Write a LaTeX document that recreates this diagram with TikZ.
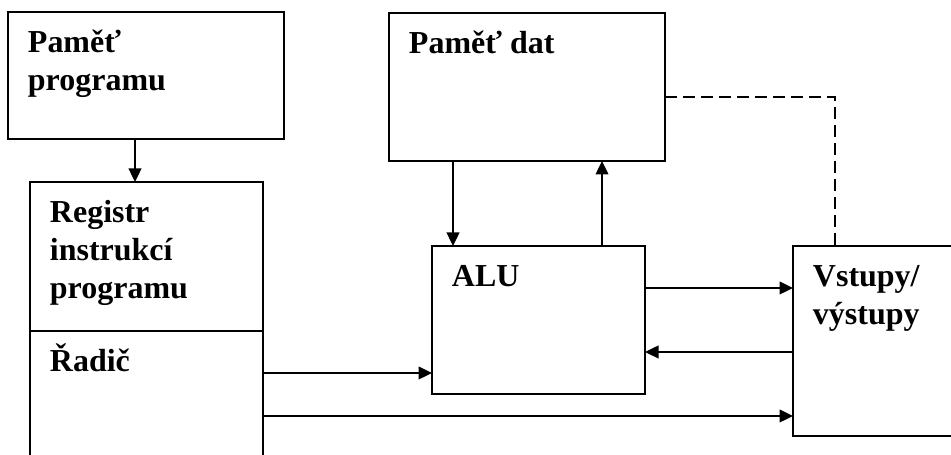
\documentclass[tikz,border=0pt]{standalone}
\usepackage{fontspec}
\setmainfont{Liberation Serif}
\usetikzlibrary{arrows.meta,positioning}

\begin{document}
\begin{tikzpicture}
	\useasboundingbox (0,0) rectangle (19.02,9.10);
	\clip (0,0) rectangle (19.02,9.10);
	\begin{scope}[line width=1.1pt,
		>={Triangle[length=0.27cm,width=0.25cm]},
		box/.style={rectangle,draw,inner sep=0pt,outer sep=0pt,anchor=north west},
		txt/.style={anchor=base west,inner sep=0pt,font=\fontsize{18.2}{21.6}\selectfont\bfseries},
		link/.style={->,line width=1.4pt},
		dashlink/.style={line width=0.9pt,dash pattern=on 0.24cm off 0.12cm}]
		\node [box, minimum width=5.52cm, minimum height=2.54cm]	(1)		at (0.16,8.86)	{};
		\node [box, minimum width=4.66cm, minimum height=2.98cm]	(2A)	at (0.60,5.46)	{};
		\node [box, minimum width=4.66cm, minimum height=3.20cm]	(2B)	at (0.60,2.48)	{};
		\node [box, minimum width=5.52cm, minimum height=2.96cm]	(3)		at (7.78,8.84)	{};
		\node [box, minimum width=4.26cm, minimum height=2.96cm]	(4)		at (8.64,4.18)	{};
		\node [box, minimum width=4.00cm, minimum height=3.80cm]	(5)		at (15.86,4.18)	{};
		% texts in the upper left corners, first baseline at the anchor
		\node [txt]	(1t)	at ([shift={(0.38,-0.82)}]1.north west)		{\vtop{\hbox{Paměť}\hbox{programu}}};
		\node [txt]	(2At)	at ([shift={(0.38,-0.82)}]2A.north west)	{\vtop{\hbox{Registr}\hbox{instrukcí}\hbox{programu}}};
		\node [txt]	(2Bt)	at ([shift={(0.38,-0.82)}]2B.north west)	{Řadič};
		\node [txt]	(3t)	at ([shift={(0.38,-0.82)}]3.north west)		{Paměť dat};
		\node [txt]	(4t)	at ([shift={(0.38,-0.82)}]4.north west)		{ALU};
		\node [txt]	(5t)	at ([shift={(0.38,-0.82)}]5.north west)		{\vtop{\hbox{Vstupy/}\hbox{výstupy}}};
		\path [link]
		([xshift=-0.22cm]1.south) edge ([xshift=-0.22cm]1.south |- 2A.north)
		([xshift=0.42cm]4.north west |- 3.south) edge ([xshift=0.42cm]4.north west)
		([xshift=-0.86cm]4.north east) edge ([xshift=-0.86cm]4.north east |- 3.south)
		([yshift=-0.84cm]4.north east) edge ([yshift=-0.84cm]4.north east -| 5.west)
		([yshift=-2.12cm]4.north east -| 5.west) edge ([yshift=-2.12cm]4.north east)
		([yshift=0.42cm]4.south west -| 2B.east) edge ([yshift=0.42cm]4.south west)
		([yshift=0.40cm]5.south west -| 2B.east) edge ([yshift=0.40cm]5.south west)
		;
		\draw [dashlink] ([yshift=-0.2cm]3.east) -| ([xshift=0.84cm]5.north west);
	\end{scope}
\end{tikzpicture}
\end{document}
